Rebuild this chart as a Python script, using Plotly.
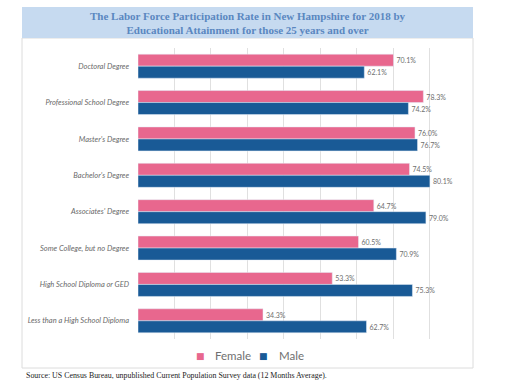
import plotly.graph_objects as go

categories = ["Doctoral Degree", "Professional School Degree", "Master's Degree",
              "Bachelor's Degree", "Associates' Degree", "Some College, but no Degree",
              "High School Diploma or GED", "Less than a High School Diploma"]
female = [70.1, 78.3, 76.0, 74.5, 64.7, 60.5, 53.3, 34.3]
male = [62.1, 74.2, 76.7, 80.1, 79.0, 70.9, 75.3, 62.7]
series_names = ["Female", "Male"]
series_colors = ["#e8678e", "#195a96"]

W, H = 510, 382
ML, MR, MT, MB = 138, 44, 48, 43
PW, PH = W - ML - MR, H - MT - MB

def px(x):
    return (x - ML) / PW

def py(y):
    return (H - MB - y) / PH

fig = go.Figure()
for name, vals, col in zip(series_names, [female, male], series_colors):
    fig.add_trace(go.Bar(y=categories, x=vals, name=name, orientation="h",
                         marker_color=col,
                         texttemplate="%{x:.1f}%", textposition="outside",
                         textfont=dict(size=7, color="#6e6e6e", family="Lato"),
                         cliponaxis=False, showlegend=False))

shapes = [
    dict(type="rect", xref="paper", yref="paper", x0=px(22), x1=px(473), y0=py(368), y1=py(38),
         line=dict(color="#dcdcdc", width=1), fillcolor="white", layer="below"),
    dict(type="rect", xref="paper", yref="paper", x0=px(22), x1=px(473), y0=py(38), y1=py(7),
         line=dict(width=0), fillcolor="#c6daf0", layer="below"),
]

annotations = [
    dict(text="<b>The Labor Force Participation Rate in New Hampshire for 2018 by<br>Educational Attainment for those 25 years and over</b>",
         xref="paper", yref="paper", x=px(248), y=py(23), xanchor="center", yanchor="middle",
         showarrow=False, font=dict(family="Liberation Serif", size=11, color="#5a87c0")),
    dict(text="Source: US Census Bureau, unpublished Current Population Survey data (12 Months Average).",
         xref="paper", yref="paper", x=px(24), y=py(375), xanchor="left", yanchor="middle",
         showarrow=False, font=dict(family="Liberation Serif", size=7.9, color="#222222")),
]

# legend drawn as text entries
legend_pos = [(200, 213), (263, 277)]
for name, col, (mx, tx) in zip(series_names, series_colors, legend_pos):
    annotations.append(dict(text="■", xref="paper", yref="paper", x=px(mx), y=py(355.5),
                            xanchor="center", yanchor="middle", showarrow=False,
                            font=dict(family="DejaVu Sans", size=9, color=col)))
    annotations.append(dict(text=name, xref="paper", yref="paper", x=px(tx), y=py(355.5),
                            xanchor="left", yanchor="middle", showarrow=False,
                            font=dict(family="Lato", size=11.5, color="#707070")))

fig.update_layout(
    width=W, height=H,
    margin=dict(l=ML, r=MR, t=MT, b=MB),
    paper_bgcolor="white", plot_bgcolor="rgba(0,0,0,0)",
    barmode="group", bargap=0.34, bargroupgap=0,
    shapes=shapes, annotations=annotations,
    showlegend=False,
    xaxis=dict(range=[0, 90], dtick=10, showticklabels=False, showgrid=True,
               gridcolor="#e0e0e0", gridwidth=1, zeroline=False, showline=False, fixedrange=True),
    yaxis=dict(autorange="reversed", showgrid=False, showline=False, zeroline=False,
               ticks="", ticklabelstandoff=8, fixedrange=True,
               tickfont=dict(family="Lato", size=7.5, color="#6a6a6a", style="italic")),
)

fig.write_html("out.html", config={"displayModeBar": False},
               post_script="document.body.style.margin='0';")
